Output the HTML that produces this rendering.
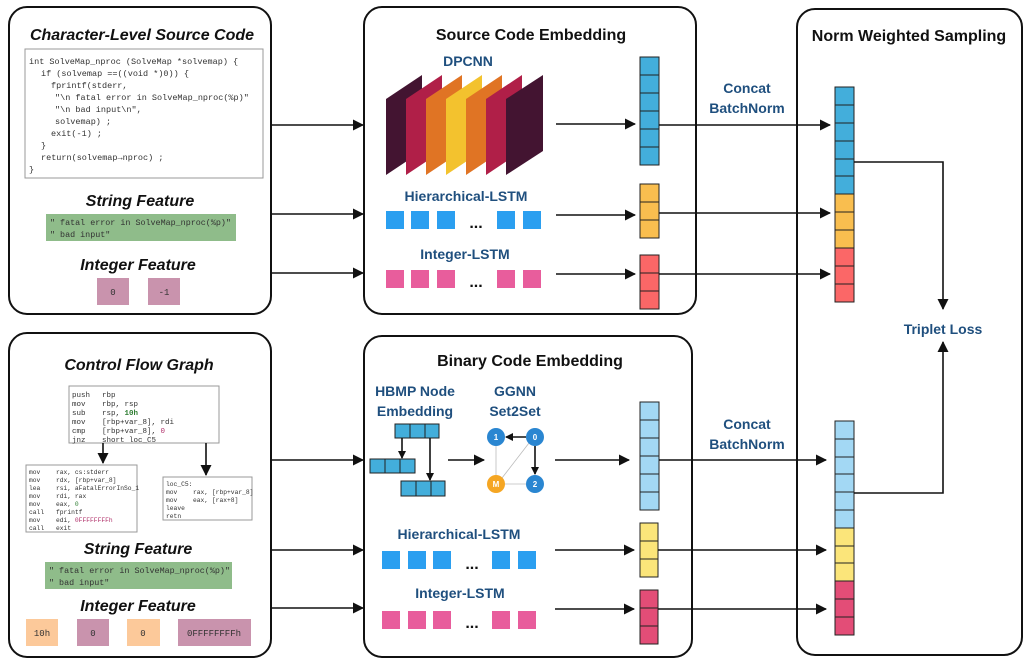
<!DOCTYPE html>
<html><head><meta charset="utf-8"><style>
html,body{margin:0;padding:0;background:#fff;}
svg{display:block;}
.t{font-family:"Liberation Sans",sans-serif;font-weight:bold;fill:#111;}
.b{font-family:"Liberation Sans",sans-serif;font-weight:bold;fill:#1f4f7e;}
.m{font-family:"Liberation Mono",monospace;fill:#333;}
.box{fill:none;stroke:#111;stroke-width:2;}
.ln{stroke:#111;stroke-width:1.6;fill:none;}
.c{stroke:#222;stroke-width:1;}
</style></head><body>
<svg width="1029" height="663" viewBox="0 0 1029 663" xmlns="http://www.w3.org/2000/svg">
<defs>
<marker id="ar" markerWidth="11" markerHeight="11" refX="10" refY="5.5" orient="auto" markerUnits="userSpaceOnUse"><path d="M0,0 L11,5.5 L0,11 z" fill="#111"/></marker>
<marker id="as" markerWidth="8" markerHeight="8" refX="7" refY="4" orient="auto" markerUnits="userSpaceOnUse"><path d="M0,0 L8,4 L0,8 z" fill="#111"/></marker>
</defs>

<!-- outer boxes -->
<rect class="box" x="9" y="7" width="262" height="307" rx="18"/>
<rect class="box" x="9" y="333" width="262" height="324" rx="18"/>
<rect class="box" x="364" y="7" width="332" height="307" rx="18"/>
<rect class="box" x="364" y="336" width="328" height="321" rx="18"/>
<rect class="box" x="797" y="9" width="225" height="646" rx="18"/>

<!-- left top -->
<text class="t" x="142" y="40" font-size="16" font-style="italic" text-anchor="middle">Character-Level Source Code</text>
<rect x="25" y="49" width="238" height="129" fill="#fff" stroke="#999"/>
<g class="m" font-size="8.5">
<text x="29" y="64">int SolveMap_nproc (SolveMap *solvemap) {</text>
<text x="41" y="76">if (solvemap ==((void *)0)) {</text>
<text x="51" y="88">fprintf(stderr,</text>
<text x="55" y="100">"\n fatal error in SolveMap_nproc(%p)"</text>
<text x="55" y="112">"\n bad input\n",</text>
<text x="55" y="124">solvemap) ;</text>
<text x="51" y="136">exit(-1) ;</text>
<text x="41" y="148">}</text>
<text x="41" y="160">return(solvemap→nproc) ;</text>
<text x="29" y="172">}</text>
</g>
<text class="t" x="140" y="206" font-size="16" font-style="italic" text-anchor="middle">String Feature</text>
<rect x="46" y="214" width="190" height="27" fill="#8fbc8a"/>
<g class="m" font-size="8.4"><text x="50" y="225">" fatal error in SolveMap_nproc(%p)"</text><text x="50" y="237">" bad input"</text></g>
<text class="t" x="138" y="270" font-size="16" font-style="italic" text-anchor="middle">Integer Feature</text>
<rect x="97" y="278" width="32" height="27" fill="#c993ad"/>
<rect x="148" y="278" width="32" height="27" fill="#c993ad"/>
<g class="m" font-size="9" text-anchor="middle"><text x="113" y="295">0</text><text x="164" y="295">-1</text></g>

<!-- left bottom -->
<text class="t" x="139" y="370" font-size="16" font-style="italic" text-anchor="middle">Control Flow Graph</text>
<rect x="69" y="386" width="150" height="57" fill="#fff" stroke="#999"/>
<g class="m" font-size="7.5">
<text x="72" y="397">push</text><text x="102" y="397">rbp</text>
<text x="72" y="406">mov</text><text x="102" y="406">rbp, rsp</text>
<text x="72" y="415">sub</text><text x="102" y="415">rsp, <tspan fill="#2e7d32" font-weight="bold">10h</tspan></text>
<text x="72" y="424">mov</text><text x="102" y="424">[rbp+var_8], rdi</text>
<text x="72" y="433">cmp</text><text x="102" y="433">[rbp+var_8], <tspan fill="#b0306a">0</tspan></text>
<text x="72" y="442">jnz</text><text x="102" y="442">short loc_C5</text>
</g>
<line class="ln" x1="103" y1="443" x2="103" y2="463" marker-end="url(#ar)"/>
<line class="ln" x1="206" y1="443" x2="206" y2="475" marker-end="url(#ar)"/>
<rect x="26" y="465" width="111" height="67" fill="#fff" stroke="#999"/>
<g class="m" font-size="6.3">
<text x="29" y="474">mov</text><text x="56" y="474">rax, cs:stderr</text>
<text x="29" y="482">mov</text><text x="56" y="482">rdx, [rbp+var_8]</text>
<text x="29" y="490">lea</text><text x="56" y="490">rsi, aFatalErrorInSo_1</text>
<text x="29" y="498">mov</text><text x="56" y="498">rdi, rax</text>
<text x="29" y="506">mov</text><text x="56" y="506">eax, <tspan fill="#2e7d32">0</tspan></text>
<text x="29" y="514">call</text><text x="56" y="514">fprintf</text>
<text x="29" y="522">mov</text><text x="56" y="522">edi, <tspan fill="#b0306a">0FFFFFFFFh</tspan></text>
<text x="29" y="530">call</text><text x="56" y="530">exit</text>
</g>
<rect x="163" y="477" width="89" height="43" fill="#fff" stroke="#999"/>
<g class="m" font-size="6.3">
<text x="166" y="486">loc_C5:</text>
<text x="166" y="494">mov</text><text x="193" y="494">rax, [rbp+var_8]</text>
<text x="166" y="502">mov</text><text x="193" y="502">eax, [rax+8]</text>
<text x="166" y="510">leave</text>
<text x="166" y="518">retn</text>
</g>
<text class="t" x="138" y="554" font-size="16" font-style="italic" text-anchor="middle">String Feature</text>
<rect x="45" y="562" width="187" height="27" fill="#8fbc8a"/>
<g class="m" font-size="8.4"><text x="49" y="573">" fatal error in SolveMap_nproc(%p)"</text><text x="49" y="585">" bad input"</text></g>
<text class="t" x="138" y="611" font-size="16" font-style="italic" text-anchor="middle">Integer Feature</text>
<rect x="26" y="619" width="32" height="27" fill="#fcc99a"/>
<rect x="77" y="619" width="32" height="27" fill="#c993ad"/>
<rect x="127" y="619" width="33" height="27" fill="#fcc99a"/>
<rect x="178" y="619" width="73" height="27" fill="#c993ad"/>
<g class="m" font-size="9" text-anchor="middle"><text x="42" y="636">10h</text><text x="93" y="636">0</text><text x="143" y="636">0</text><text x="214" y="636">0FFFFFFFFh</text></g>

<!-- left arrows -->
<g class="ln">
<line x1="271" y1="125" x2="363" y2="125" marker-end="url(#ar)"/>
<line x1="271" y1="214" x2="363" y2="214" marker-end="url(#ar)"/>
<line x1="271" y1="273" x2="363" y2="273" marker-end="url(#ar)"/>
<line x1="271" y1="460" x2="363" y2="460" marker-end="url(#ar)"/>
<line x1="271" y1="550" x2="363" y2="550" marker-end="url(#ar)"/>
<line x1="271" y1="608" x2="363" y2="608" marker-end="url(#ar)"/>
</g>

<!-- middle top -->
<text class="t" x="531" y="40" font-size="16" text-anchor="middle">Source Code Embedding</text>
<text class="b" x="468" y="66" font-size="14" text-anchor="middle">DPCNN</text>
<polygon points="386,99 422,75 422,151 386,175" fill="#431431"/>
<polygon points="406,99 442,75 442,151 406,175" fill="#b01f48"/>
<polygon points="426,99 462,75 462,151 426,175" fill="#e07424"/>
<polygon points="446,99 482,75 482,151 446,175" fill="#f3c22e"/>
<polygon points="466,99 502,75 502,151 466,175" fill="#e07424"/>
<polygon points="486,99 522,75 522,151 486,175" fill="#b01f48"/>
<polygon points="506,99 543,75 543,151 506,175" fill="#431431"/>
<text class="b" x="466" y="201" font-size="14" text-anchor="middle">Hierarchical-LSTM</text>
<g fill="#2b9ff0"><rect x="386" y="211" width="18" height="18"/><rect x="411" y="211" width="18" height="18"/><rect x="437" y="211" width="18" height="18"/><rect x="497" y="211" width="18" height="18"/><rect x="523" y="211" width="18" height="18"/></g>
<text class="t" x="476" y="228" font-size="16" text-anchor="middle">...</text>
<text class="b" x="465" y="259" font-size="14" text-anchor="middle">Integer-LSTM</text>
<g fill="#e85d9c"><rect x="386" y="270" width="18" height="18"/><rect x="411" y="270" width="18" height="18"/><rect x="437" y="270" width="18" height="18"/><rect x="497" y="270" width="18" height="18"/><rect x="523" y="270" width="18" height="18"/></g>
<text class="t" x="476" y="287" font-size="16" text-anchor="middle">...</text>
<g class="ln">
<line x1="556" y1="124" x2="635" y2="124" marker-end="url(#ar)"/>
<line x1="556" y1="215" x2="635" y2="215" marker-end="url(#ar)"/>
<line x1="556" y1="274" x2="635" y2="274" marker-end="url(#ar)"/>
</g>
<g class="c" fill="#43aedb">
<rect x="640" y="57" width="19" height="18"/><rect x="640" y="75" width="19" height="18"/><rect x="640" y="93" width="19" height="18"/><rect x="640" y="111" width="19" height="18"/><rect x="640" y="129" width="19" height="18"/><rect x="640" y="147" width="19" height="18"/>
</g>
<g class="c" fill="#f9be4f"><rect x="640" y="184" width="19" height="18"/><rect x="640" y="202" width="19" height="18"/><rect x="640" y="220" width="19" height="18"/></g>
<g class="c" fill="#fb6767"><rect x="640" y="255" width="19" height="18"/><rect x="640" y="273" width="19" height="18"/><rect x="640" y="291" width="19" height="18"/></g>

<!-- middle bottom -->
<text class="t" x="530" y="366" font-size="16" text-anchor="middle">Binary Code Embedding</text>
<text class="b" x="415" y="396" font-size="14" text-anchor="middle">HBMP Node</text>
<text class="b" x="415" y="416" font-size="14" text-anchor="middle">Embedding</text>
<text class="b" x="515" y="396" font-size="14" text-anchor="middle">GGNN</text>
<text class="b" x="515" y="416" font-size="14" text-anchor="middle">Set2Set</text>
<g class="c" fill="#43aedb">
<rect x="395" y="424" width="15" height="14"/><rect x="410" y="424" width="15" height="14"/><rect x="425" y="424" width="14" height="14"/>
<rect x="370" y="459" width="15" height="14"/><rect x="385" y="459" width="15" height="14"/><rect x="400" y="459" width="15" height="14"/>
<rect x="401" y="481" width="15" height="15"/><rect x="416" y="481" width="15" height="15"/><rect x="431" y="481" width="14" height="15"/>
</g>
<line class="ln" x1="402" y1="438" x2="402" y2="458" stroke-width="1.3" marker-end="url(#as)"/>
<line class="ln" x1="430" y1="438" x2="430" y2="480" stroke-width="1.3" marker-end="url(#as)"/>
<line class="ln" x1="448" y1="460" x2="484" y2="460" marker-end="url(#ar)"/>
<g stroke="#bbb" stroke-width="0.8"><line x1="496" y1="446" x2="496" y2="475"/><line x1="529" y1="443" x2="502" y2="478"/><line x1="526" y1="484" x2="505" y2="484"/></g>
<line class="ln" x1="526" y1="437" x2="506" y2="437" stroke-width="1.3" marker-end="url(#as)"/>
<line class="ln" x1="535" y1="446" x2="535" y2="474" stroke-width="1.3" marker-end="url(#as)"/>
<circle cx="496" cy="437" r="9" fill="#2a86d1"/><circle cx="535" cy="437" r="9" fill="#2a86d1"/>
<circle cx="496" cy="484" r="9" fill="#f5a623"/><circle cx="535" cy="484" r="9" fill="#2a86d1"/>
<g font-family="Liberation Sans,sans-serif" font-size="8" font-weight="bold" fill="#fff" text-anchor="middle">
<text x="496" y="440">1</text><text x="535" y="440">0</text><text x="496" y="487">M</text><text x="535" y="487">2</text></g>
<line class="ln" x1="555" y1="460" x2="629" y2="460" marker-end="url(#ar)"/>
<g class="c" fill="#a3d8f4">
<rect x="640" y="402" width="19" height="18"/><rect x="640" y="420" width="19" height="18"/><rect x="640" y="438" width="19" height="18"/><rect x="640" y="456" width="19" height="18"/><rect x="640" y="474" width="19" height="18"/><rect x="640" y="492" width="19" height="18"/>
</g>
<text class="b" x="459" y="539" font-size="14" text-anchor="middle">Hierarchical-LSTM</text>
<g fill="#2b9ff0"><rect x="382" y="551" width="18" height="18"/><rect x="408" y="551" width="18" height="18"/><rect x="433" y="551" width="18" height="18"/><rect x="492" y="551" width="18" height="18"/><rect x="518" y="551" width="18" height="18"/></g>
<text class="t" x="472" y="569" font-size="16" text-anchor="middle">...</text>
<text class="b" x="460" y="598" font-size="14" text-anchor="middle">Integer-LSTM</text>
<g fill="#e85d9c"><rect x="382" y="611" width="18" height="18"/><rect x="408" y="611" width="18" height="18"/><rect x="433" y="611" width="18" height="18"/><rect x="492" y="611" width="18" height="18"/><rect x="518" y="611" width="18" height="18"/></g>
<text class="t" x="472" y="628" font-size="16" text-anchor="middle">...</text>
<g class="ln">
<line x1="555" y1="550" x2="634" y2="550" marker-end="url(#ar)"/>
<line x1="555" y1="609" x2="634" y2="609" marker-end="url(#ar)"/>
</g>
<g class="c" fill="#fbe57a"><rect x="640" y="523" width="18" height="18"/><rect x="640" y="541" width="18" height="18"/><rect x="640" y="559" width="18" height="18"/></g>
<g class="c" fill="#e34d77"><rect x="640" y="590" width="18" height="18"/><rect x="640" y="608" width="18" height="18"/><rect x="640" y="626" width="18" height="18"/></g>

<!-- concat -->
<text class="b" x="747" y="93" font-size="14" text-anchor="middle">Concat</text>
<text class="b" x="747" y="113" font-size="14" text-anchor="middle">BatchNorm</text>
<text class="b" x="747" y="429" font-size="14" text-anchor="middle">Concat</text>
<text class="b" x="747" y="449" font-size="14" text-anchor="middle">BatchNorm</text>
<g class="ln">
<line x1="659" y1="125" x2="830" y2="125" marker-end="url(#ar)"/>
<line x1="659" y1="213" x2="830" y2="213" marker-end="url(#ar)"/>
<line x1="659" y1="274" x2="830" y2="274" marker-end="url(#ar)"/>
<line x1="659" y1="460" x2="826" y2="460" marker-end="url(#ar)"/>
<line x1="658" y1="550" x2="826" y2="550" marker-end="url(#ar)"/>
<line x1="658" y1="609" x2="826" y2="609" marker-end="url(#ar)"/>
</g>

<!-- right -->
<text class="t" x="909" y="41" font-size="16" text-anchor="middle">Norm Weighted Sampling</text>
<g class="c" fill="#43aedb">
<rect x="835" y="87" width="19" height="18"/><rect x="835" y="105" width="19" height="18"/><rect x="835" y="123" width="19" height="18"/><rect x="835" y="141" width="19" height="18"/><rect x="835" y="159" width="19" height="17"/><rect x="835" y="176" width="19" height="18"/>
</g>
<g class="c" fill="#f9be4f"><rect x="835" y="194" width="19" height="18"/><rect x="835" y="212" width="19" height="18"/><rect x="835" y="230" width="19" height="18"/></g>
<g class="c" fill="#fb6767"><rect x="835" y="248" width="19" height="18"/><rect x="835" y="266" width="19" height="18"/><rect x="835" y="284" width="19" height="18"/></g>
<g class="c" fill="#a3d8f4">
<rect x="835" y="421" width="19" height="18"/><rect x="835" y="439" width="19" height="18"/><rect x="835" y="457" width="19" height="17"/><rect x="835" y="474" width="19" height="18"/><rect x="835" y="492" width="19" height="18"/><rect x="835" y="510" width="19" height="18"/>
</g>
<g class="c" fill="#fbe57a"><rect x="835" y="528" width="19" height="18"/><rect x="835" y="546" width="19" height="17"/><rect x="835" y="563" width="19" height="18"/></g>
<g class="c" fill="#e34d77"><rect x="835" y="581" width="19" height="18"/><rect x="835" y="599" width="19" height="18"/><rect x="835" y="617" width="19" height="18"/></g>
<polyline class="ln" points="854,162 943,162 943,309" marker-end="url(#ar)"/>
<polyline class="ln" points="854,493 943,493 943,342" marker-end="url(#ar)"/>
<text class="b" x="943" y="334" font-size="14" text-anchor="middle">Triplet Loss</text>
</svg>
</body></html>
